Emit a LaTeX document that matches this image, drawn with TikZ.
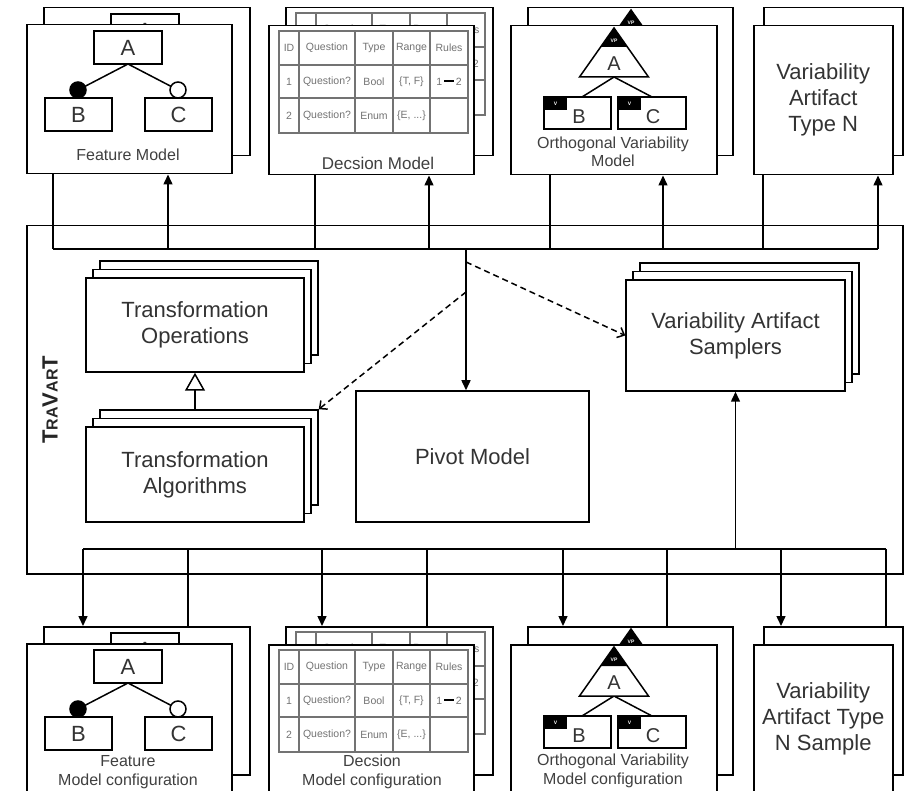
\documentclass[tikz,border=0pt]{standalone}
\usepackage{fontspec}
\setmainfont{Liberation Sans}
\usetikzlibrary{arrows.meta,shadows}

\tikzset{
  card/.style={draw, fill=white, anchor=north west, inner sep=0pt},
  big/.style={text=black!80, font=\fontsize{22}{26}\selectfont, align=center},
  lbl/.style={text=black!75, font=\fontsize{16}{18.5}\selectfont, align=center, inner sep=0pt},
  letter/.style={text=black!80, font=\fontsize{22}{22}\selectfont, inner sep=0pt},
  ovmletter/.style={text=black!80, font=\fontsize{20}{20}\selectfont, inner sep=0pt},
  tag/.style={text=white, font=\fontsize{5}{5}\selectfont\bfseries, inner sep=0pt},
  cell/.style={text=black!55, font=\fontsize{10.5}{11}\selectfont, inner sep=0pt},
  grid/.style={draw=black!55, line width=2.6pt, line cap=rect},
  stack/.style={draw, fill=white, big, double copy shadow={shadow xshift=7pt, shadow yshift=8.5pt}},
  arr/.style={-{Triangle[width=9pt,length=10pt]}},
  dasharr/.style={dash pattern=on 6pt off 4pt, -{Straight Barb[width=11pt,length=6pt]}},
  inherit/.style={-{Triangle[open,width=20pt,length=18pt]}}
}

% feature model pictogram (origin = top left of the card)
\newcommand{\featurepic}{%
  \draw (102,40) -- (52,66);
  \draw (102,40) -- (152,66);
  \draw[fill=white] (68,7) rectangle (136,40);
  \node[letter] at (102,23.5) {A};
  \draw[fill=white] (19,74) rectangle (86,107);
  \node[letter] at (52.5,90.5) {B};
  \draw[fill=white] (119,74) rectangle (186,107);
  \node[letter] at (152.5,90.5) {C};
  \draw[fill=black] (52,66) circle (8pt);
  \draw[fill=white] (152,66) circle (8pt);
}

% decision model table
\newcommand{\decisiontable}{%
  \foreach \gx in {11,31,87,125,162,200} {\draw[grid] (\gx,6) -- (\gx,108);}
  \foreach \gy in {6,40,73,108} {\draw[grid] (11,\gy) -- (200,\gy);}
  \node[cell] at (21,23) {ID};
  \node[cell] at (59,23) {Question};
  \node[cell] at (106,23) {Type};
  \node[cell] at (143.5,23) {Range};
  \node[cell] at (181,23) {Rules};
  \node[cell] at (21,56.5) {1};
  \node[cell] at (59,56.5) {Question?};
  \node[cell] at (106,56.5) {Bool};
  \node[cell] at (143.5,56.5) {\{T, F\}};
  \node[cell] at (181,56.5) {1\,{\color{black}\rule[0.3em]{10pt}{1.6pt}}\,2};
  \node[cell] at (21,90.5) {2};
  \node[cell] at (59,90.5) {Question?};
  \node[cell] at (106,90.5) {Enum};
  \node[cell] at (143.5,90.5) {\{E, ...\}};
}

% orthogonal variability model pictogram
\newcommand{\ovmpic}{%
  \draw (104,52) -- (72,72);
  \draw (104,52) -- (142,72);
  \fill[white] (104,3) -- (138.5,52) -- (69.5,52) -- cycle;
  \fill (104,3) -- (117.4,22) -- (90.6,22) -- cycle;
  \draw (104,3) -- (138.5,52) -- (69.5,52) -- cycle;
  \node[tag] at (104,16) {VP};
  \node[ovmletter] at (104,39) {A};
  \draw[fill=white] (34,72) rectangle (101,104);
  \fill (34,72) rectangle (57,85);
  \node[tag] at (45.5,78.5) {V};
  \node[ovmletter] at (69,92) {B};
  \draw[fill=white] (108,72) rectangle (176,104);
  \fill (108,72) rectangle (131,85);
  \node[tag] at (119.5,78.5) {V};
  \node[ovmletter] at (143,92) {C};
}

\begin{document}
\begin{tikzpicture}[x=1pt,y=-1pt,line width=1.5pt]
  \useasboundingbox (0,0) rectangle (905,791);

  % Top row - variability artifacts
  \begin{scope}[shift={(43,7)}]
    \node[card, minimum width=206, minimum height=148] (fmTb) at (0,0) {};
    \featurepic
  \end{scope}
  \begin{scope}[shift={(26,24)}]
    \node[card, minimum width=205, minimum height=149] (fmT) at (0,0) {};
    \featurepic
    \node[lbl] at (102,131) {Feature Model};
  \end{scope}

  \begin{scope}[shift={(285,7)}]
    \node[card, minimum width=207, minimum height=148] (dmTb) at (0,0) {};
    \decisiontable
  \end{scope}
  \begin{scope}[shift={(268,25)}]
    \node[card, minimum width=205, minimum height=149] (dmT) at (0,0) {};
    \decisiontable
    \node[lbl, font=\fontsize{17}{19}\selectfont] at (110,138) {Decsion Model};
  \end{scope}

  \begin{scope}[shift={(527,7)}]
    \node[card, minimum width=205, minimum height=148] (ovmTb) at (0,0) {};
    \ovmpic
  \end{scope}
  \begin{scope}[shift={(510,25)}]
    \node[card, minimum width=206, minimum height=149] (ovmT) at (0,0) {};
    \ovmpic
    \node[lbl] at (103,127) {Orthogonal Variability\\Model};
  \end{scope}

  \node[card, minimum width=139, minimum height=148] (natTb) at (763,7) {};
  \node[card, big, minimum width=139, minimum height=149] (natT) at (753,25) {Variability\\Artifact\\Type N};

  % TraVarT frame
  \node[draw, anchor=north west, inner sep=0pt, minimum width=876, minimum height=348] (travart) at (26,225) {};
  \node[rotate=90, text=black!85, font=\fontsize{22}{22}\selectfont\bfseries] (travartlbl) at ([xshift=24pt]travart.west)
    {T{\fontsize{16}{16}\selectfont RA}V{\fontsize{16}{16}\selectfont AR}T};

  % inside TraVarT
  \node[stack, minimum width=218, minimum height=94] (tops) at (195,325) {Transformation\\Operations};
  \node[stack, minimum width=218, minimum height=95] (talg) at (195,474.5) {Transformation\\Algorithms};
  \node[draw, big, minimum width=233, minimum height=131] (pivot) at (472.5,456.5) {Pivot Model};
  \node[stack, minimum width=219, minimum height=111] (samplers) at (735.5,335.5) {Variability Artifact\\Samplers};

  \draw[inherit] ([yshift=17pt]talg.north) -- (tops.south);

  % upper bus
  \foreach \n/\a/\b [count=\i] in {fmT/53/168, dmT/315/429, ovmT/550/663, natT/763/878} {
    \coordinate (td\i) at (\a,249);
    \coordinate (tu\i) at (\b,249);
    \draw (\n.south -| td\i) -- (td\i);
    \draw[arr] (tu\i) -- (\n.south -| tu\i);
  }
  \draw (td1) -- (tu4);

  \coordinate (hub) at (466,249);
  \coordinate (d1) at (466,262);
  \coordinate (d2) at (466,292);
  \draw[arr] (hub) -- (hub |- pivot.north);
  \draw[dasharr] (d1) -- (samplers.west);
  \draw[dasharr] (d2) -- ([xshift=14pt,yshift=17pt]talg.north east);

  % lower bus
  \foreach \n/\a/\b [count=\i] in {fmBb/83/188, dmBb/322/427, ovmBb/563/667, natBb/781/886} {
    \coordinate (bd\i) at (\a,549);
    \coordinate (bu\i) at (\b,549);
  }
  \draw (bd1) -- (bu4);
  \draw[arr] (bd1 -| samplers.south) -- (samplers.south);

  % Bottom row - configurations / samples
  \begin{scope}[shift={(43,626)}]
    \node[card, minimum width=206, minimum height=148] (fmBb) at (0,0) {};
    \featurepic
  \end{scope}
  \begin{scope}[shift={(26,643)}]
    \node[card, minimum width=205, minimum height=149] (fmB) at (0,0) {};
    \featurepic
    \node[lbl] at (102,129) {Feature\\Model configuration};
  \end{scope}

  \begin{scope}[shift={(285,626)}]
    \node[card, minimum width=207, minimum height=148] (dmBb) at (0,0) {};
    \decisiontable
  \end{scope}
  \begin{scope}[shift={(268,644)}]
    \node[card, minimum width=205, minimum height=149] (dmB) at (0,0) {};
    \decisiontable
    \node[lbl] at (104,128) {Decsion\\Model configuration};
  \end{scope}

  \begin{scope}[shift={(527,626)}]
    \node[card, minimum width=205, minimum height=148] (ovmBb) at (0,0) {};
    \ovmpic
  \end{scope}
  \begin{scope}[shift={(510,644)}]
    \node[card, minimum width=206, minimum height=149] (ovmB) at (0,0) {};
    \ovmpic
    \node[lbl] at (103,127) {Orthogonal Variability\\Model configuration};
  \end{scope}

  \node[card, minimum width=139, minimum height=148] (natBb) at (763,626) {};
  \node[card, big, minimum width=139, minimum height=149] (natB) at (753,644) {Variability\\Artifact Type\\N Sample};

  \foreach \n [count=\i] in {fmBb, dmBb, ovmBb, natBb} {
    \draw[arr] (bd\i) -- (\n.north -| bd\i);
    \draw (bu\i) -- (\n.north -| bu\i);
  }
\end{tikzpicture}
\end{document}
